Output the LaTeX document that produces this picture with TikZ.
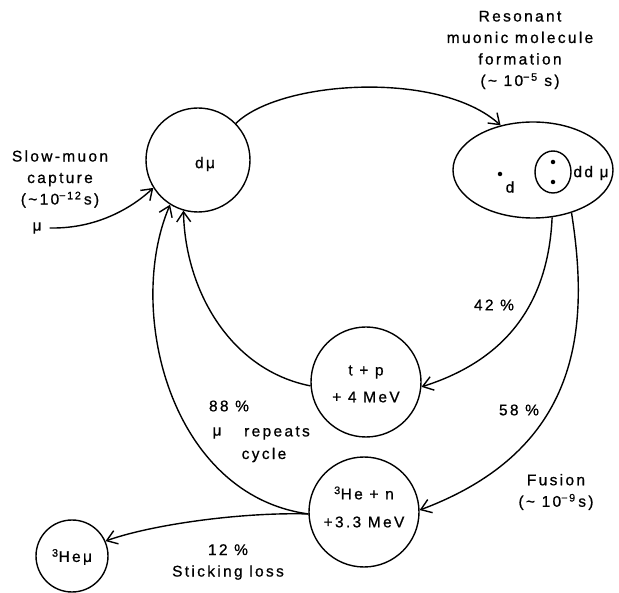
\documentclass[tikz,border=0pt]{standalone}
\usepackage{fontspec}
\setmainfont[LetterSpace=15,FakeBold=0.8]{Liberation Sans}
\usetikzlibrary{arrows.meta,shapes.geometric}
\tikzset{
  lab/.style={align=center, inner sep=0pt, font=\fontsize{15.5}{21.5}\selectfont},
  st/.style={circle, draw, line width=1.4pt},
  con/.style={line width=1.4pt, -{Straight Barb[length=10pt,width=14pt,line width=1.4pt]}},
  dotm/.style={circle, fill, inner sep=0pt, minimum size=4.5pt}
}
\begin{document}
\begin{tikzpicture}[x=1pt,y=-1pt]
\useasboundingbox (0,0) rectangle (619,593);
% states
\node[st, minimum size=104pt] (dmu) at (198,160) {};
\node[lab] (dmut) at (205,164) {dμ};
\node[ellipse, draw, line width=1.4pt, minimum width=160pt, minimum height=96pt] (ddm) at (533,170) {};
\node[ellipse, draw, line width=1.4pt, minimum width=36pt, minimum height=42pt] (inner) at (553,172) {};
\node[dotm] (d1) at (553,162) {};
\node[dotm] (d2) at (553,182) {};
\node[dotm] (d0) at (500,174) {};
\node[lab] (dlab) at (510,187) {d};
\node[lab] (ddlab) at (591,173) {dd μ};
\node[st, minimum size=110pt] (tp) at (366,382) {};
\node[lab] (tp1) at (366,372) {t + p};
\node[lab] (tp2) at (366,397) {+ 4 MeV};
\node[st, minimum size=110pt] (hen) at (364,512) {};
\node[lab] (hen1) at (364,493) {\textsuperscript{3}He + n};
\node[lab] (hen2) at (364,522) {+3.3 MeV};
\node[st, minimum size=72pt] (hemu) at (72,556) {};
\node[lab] (hemut) at (72,557) {\textsuperscript{3}Heμ};
% labels
\node[lab] (slow) at (60,179) {Slow-muon\\capture\\(\textasciitilde 10\textsuperscript{−12}\,s)};
\node[lab] (mu) at (37,228) {μ};
\node[lab] (reso) at (520,50) {Resonant\\muonic molecule\\formation\\(\textasciitilde\ 10\textsuperscript{−5} s)};
\node[lab] (p42) at (494,305) {42 \%};
\node[lab] (p58) at (519,410) {58 \%};
\node[lab] (fus) at (556,492) {Fusion\\(\textasciitilde\ 10\textsuperscript{−9}\,s)};
\node[lab] (p88) at (229,406) {88 \%};
\node[lab] (mur) at (217,433) {μ};
\node[lab] (rep) at (277,433) {repeats};
\node[lab] (cyc) at (264,455) {cycle};
\node[lab] (stick) at (228,562) {12 \%\\Sticking loss};
% connectors
\coordinate (muS) at ([xshift=8pt]mu.east);
\draw[con] (muS) .. controls (100,229) and (135,205) .. (dmu.212);
\draw[con] (dmu.44) .. controls (280,80) and (440,70) .. (ddm.126);
\draw[con] (ddm.292) .. controls (548,310) and (500,362) .. (tp.355);
\draw[con] (ddm.312) .. controls (590,330) and (580,450) .. (hen.2);
\draw[con] (tp.184) .. controls (230,370) and (185,290) .. (dmu.254);
\draw[con] (hen.182) .. controls (170,495) and (125,310) .. (dmu.238);
\draw[con] (hen.182) .. controls (240,512) and (150,525) .. (hemu.24);
\end{tikzpicture}
\end{document}
